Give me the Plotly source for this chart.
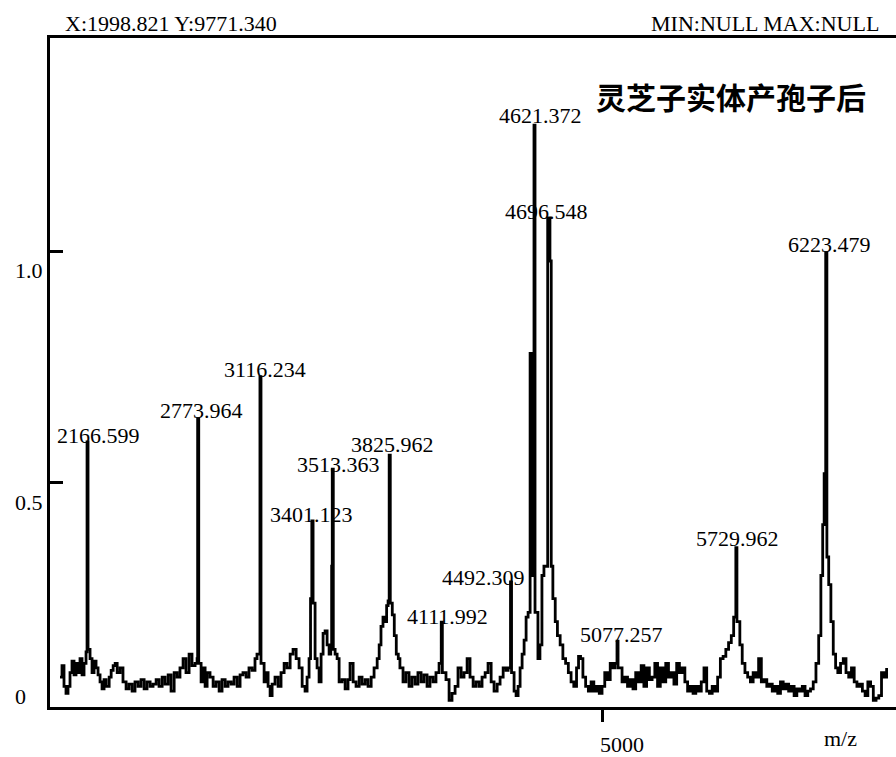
import plotly.graph_objects as go

# Labelled peaks: m/z and relative intensity
PEAK_MZ = [2166.599, 2773.964, 3116.234, 3401.123, 3513.363, 3825.962, 4111.992,
           4492.309, 4621.372, 4696.548, 5077.257, 5729.962, 6223.479]
PEAK_INT = [0.589, 0.639, 0.730, 0.418, 0.530, 0.560, 0.199,
            0.286, 1.274, 1.073, 0.158, 0.360, 0.998]
# nudge of each peak label (px)
LABEL_DX = [11, 4, 5, 0, 6, 3, 6, -27, 6, -1, 4, 2, 4]
LABEL_DY = [-7, -5, -6, -7, -9, -3, -8, -9, -4, -7, -7, -4, -5]

# Unlabelled companion peaks next to the major ones
SIDE_MZ = [4600.0, 4709.0, 6215.0]
SIDE_INT = [0.780, 0.980, 0.520]

# Baseline / noise profile of the spectrum
BASE_MZ = [
    2018, 2029, 2040, 2051, 2062, 2073, 2084, 2095, 2106, 2117, 2128, 2139, 2150, 2161,
    2172, 2183, 2194, 2205, 2216, 2227, 2238, 2249, 2260, 2271, 2288, 2299, 2310, 2321,
    2332, 2348, 2364, 2381, 2397, 2414, 2430, 2447, 2463, 2480, 2496, 2513, 2529, 2546,
    2562, 2579, 2595, 2612, 2628, 2645, 2661, 2677, 2694, 2710, 2727, 2743, 2760, 2771,
    2780, 2793, 2804, 2815, 2826, 2842, 2859, 2875, 2892, 2908, 2925, 2941, 2958, 2974,
    2991, 3007, 3023, 3040, 3056, 3073, 3089, 3100, 3122, 3139, 3150, 3161, 3172, 3183,
    3199, 3216, 3232, 3249, 3265, 3282, 3298, 3315, 3331, 3348, 3364, 3375, 3386, 3394,
    3408, 3419, 3430, 3441, 3452, 3463, 3474, 3485, 3496, 3505, 3510, 3519, 3529, 3540,
    3551, 3567, 3584, 3600, 3611, 3628, 3644, 3661, 3677, 3694, 3710, 3727, 3743, 3760,
    3771, 3781, 3792, 3800, 3812, 3820, 3832, 3843, 3854, 3865, 3876, 3885, 3902, 3918,
    3935, 3951, 3968, 3984, 4001, 4017, 4034, 4050, 4067, 4083, 4100, 4118, 4138, 4155,
    4171, 4188, 4204, 4221, 4237, 4254, 4270, 4287, 4303, 4320, 4336, 4353, 4369, 4386,
    4402, 4419, 4435, 4452, 4468, 4479, 4498, 4512, 4523, 4534, 4545, 4556, 4567, 4578,
    4589, 4606, 4627, 4643, 4654, 4665, 4676, 4716, 4725, 4738, 4750, 4765, 4780, 4795,
    4810, 4825, 4840, 4855, 4866, 4877, 4890, 4905, 4920, 4935, 4950, 4965, 4980, 4995,
    5010, 5025, 5040, 5055, 5066, 5083, 5105, 5120, 5135, 5150, 5165, 5180, 5195, 5210,
    5225, 5240, 5255, 5270, 5285, 5300, 5315, 5330, 5345, 5360, 5375, 5390, 5405, 5420,
    5435, 5450, 5465, 5480, 5495, 5510, 5525, 5540, 5555, 5570, 5585, 5600, 5615, 5630,
    5645, 5660, 5675, 5690, 5705, 5718, 5736, 5752, 5765, 5780, 5795, 5810, 5825, 5840,
    5855, 5870, 5885, 5900, 5915, 5930, 5945, 5960, 5975, 5990, 6005, 6020, 6035, 6050,
    6065, 6080, 6095, 6110, 6125, 6140, 6155, 6170, 6185, 6197, 6207, 6230, 6240, 6252,
    6265, 6278, 6290, 6305, 6320, 6335, 6350, 6365, 6380, 6395, 6410, 6425, 6440, 6455,
    6470, 6485, 6500, 6515, 6530, 6545, 6558,
]
BASE_INT = [
    0.080, 0.105, 0.060, 0.045, 0.060, 0.090, 0.115, 0.085, 0.110, 0.090, 0.120, 0.085, 0.110, 0.135,
    0.140, 0.120, 0.090, 0.115, 0.100, 0.085, 0.070, 0.055, 0.075, 0.060, 0.080, 0.095, 0.105, 0.110,
    0.090, 0.100, 0.070, 0.055, 0.065, 0.050, 0.070, 0.060, 0.075, 0.055, 0.070, 0.060, 0.065, 0.075,
    0.060, 0.080, 0.065, 0.085, 0.050, 0.090, 0.080, 0.100, 0.120, 0.090, 0.130, 0.105, 0.110, 0.120,
    0.110, 0.070, 0.100, 0.060, 0.090, 0.080, 0.060, 0.070, 0.050, 0.075, 0.060, 0.070, 0.065, 0.080,
    0.060, 0.085, 0.090, 0.080, 0.100, 0.095, 0.120, 0.130, 0.110, 0.070, 0.090, 0.060, 0.040, 0.065,
    0.080, 0.060, 0.090, 0.110, 0.100, 0.130, 0.140, 0.120, 0.100, 0.060, 0.050, 0.080, 0.120, 0.250,
    0.240, 0.120, 0.100, 0.070, 0.130, 0.175, 0.180, 0.150, 0.130, 0.140, 0.320, 0.140, 0.130, 0.120,
    0.070, 0.075, 0.055, 0.075, 0.110, 0.070, 0.060, 0.080, 0.065, 0.075, 0.060, 0.080, 0.100, 0.120,
    0.150, 0.190, 0.210, 0.200, 0.235, 0.245, 0.240, 0.215, 0.170, 0.130, 0.120, 0.100, 0.070, 0.090,
    0.060, 0.080, 0.065, 0.090, 0.070, 0.085, 0.060, 0.080, 0.070, 0.090, 0.110, 0.090, 0.075, 0.030,
    0.045, 0.060, 0.100, 0.080, 0.090, 0.120, 0.080, 0.060, 0.070, 0.060, 0.080, 0.090, 0.110, 0.070,
    0.050, 0.065, 0.080, 0.100, 0.095, 0.100, 0.090, 0.050, 0.040, 0.060, 0.100, 0.130, 0.160, 0.210,
    0.220, 0.300, 0.220, 0.120, 0.150, 0.300, 0.320, 0.320, 0.250, 0.200, 0.170, 0.150, 0.120, 0.110,
    0.090, 0.070, 0.060, 0.100, 0.125, 0.120, 0.080, 0.060, 0.050, 0.070, 0.050, 0.060, 0.045, 0.060,
    0.090, 0.075, 0.110, 0.100, 0.110, 0.100, 0.070, 0.080, 0.060, 0.075, 0.055, 0.090, 0.070, 0.105,
    0.060, 0.100, 0.075, 0.080, 0.110, 0.060, 0.100, 0.070, 0.110, 0.080, 0.090, 0.065, 0.110, 0.090,
    0.100, 0.070, 0.050, 0.060, 0.045, 0.060, 0.050, 0.070, 0.100, 0.050, 0.045, 0.060, 0.050, 0.080,
    0.120, 0.125, 0.140, 0.155, 0.170, 0.210, 0.200, 0.150, 0.110, 0.090, 0.080, 0.070, 0.090, 0.080,
    0.120, 0.070, 0.075, 0.060, 0.065, 0.050, 0.060, 0.045, 0.070, 0.055, 0.065, 0.050, 0.060, 0.040,
    0.055, 0.050, 0.060, 0.040, 0.050, 0.055, 0.070, 0.110, 0.170, 0.300, 0.410, 0.340, 0.280, 0.200,
    0.130, 0.100, 0.090, 0.110, 0.120, 0.090, 0.080, 0.100, 0.070, 0.060, 0.065, 0.050, 0.040, 0.070,
    0.060, 0.030, 0.035, 0.040, 0.090, 0.080, 0.100,
]

# Axis ticks
X_TICKS = [5000]
Y_TICKS = [0.5, 1.0]

HEADER_LEFT = "X:1998.821 Y:9771.340"
HEADER_RIGHT = "MIN:NULL MAX:NULL"
TITLE = "灵芝子实体产孢子后"

SERIF = "Liberation Serif"
CJK = "Noto Sans CJK SC"

# merge the profile and the peak sticks into one spectrum
points = sorted(zip(BASE_MZ + PEAK_MZ + SIDE_MZ, BASE_INT + PEAK_INT + SIDE_INT))
mz = [p[0] for p in points]
inten = [p[1] for p in points]

fig = go.Figure()
fig.add_trace(go.Scatter(
    x=mz, y=inten, mode="lines",
    line=dict(color="black", width=2.8, shape="hv"),
    hoverinfo="skip", showlegend=False,
))

annotations = []
for m, v, dx, dy in zip(PEAK_MZ, PEAK_INT, LABEL_DX, LABEL_DY):
    annotations.append(dict(
        x=m, y=v, xref="x", yref="y", text=f"{m:.3f}", showarrow=False,
        xanchor="center", yanchor="bottom", xshift=dx, yshift=dy, borderpad=0,
        font=dict(family=SERIF, size=22, color="black"),
    ))

annotations += [
    dict(x=0.0154, y=1.0222, xref="paper", yref="paper", text=HEADER_LEFT,
         showarrow=False, xanchor="left", yanchor="middle",
         font=dict(family=SERIF, size=22, color="black")),
    dict(x=0.982, y=1.0222, xref="paper", yref="paper", text=HEADER_RIGHT,
         showarrow=False, xanchor="right", yanchor="middle",
         font=dict(family=SERIF, size=22, color="black")),
    dict(x=0.805, y=0.914, xref="paper", yref="paper", text=TITLE,
         showarrow=False, xanchor="center", yanchor="middle",
         font=dict(family=CJK, size=30, color="black", weight="bold")),
    dict(x=0.934, y=-0.0473, xref="paper", yref="paper", text="m/z",
         showarrow=False, xanchor="center", yanchor="middle",
         font=dict(family=SERIF, size=22, color="black")),
    dict(x=-0.0343, y=0.0162, xref="paper", yref="paper", text="0",
         showarrow=False, xanchor="center", yanchor="middle",
         font=dict(family=SERIF, size=22, color="black")),
]

fig.update_layout(
    width=896, height=757,
    margin=dict(l=50, r=0, t=38, b=42, pad=0),
    paper_bgcolor="white", plot_bgcolor="white",
    annotations=annotations,
    xaxis=dict(
        range=[1963.1, 6609.6], showline=True, linecolor="black", linewidth=3,
        mirror=True, showgrid=False, zeroline=False,
        ticks="outside", ticklen=12, tickwidth=3, tickcolor="black",
        tickvals=X_TICKS, ticktext=[str(t) for t in X_TICKS],
        tickfont=dict(family=SERIF, size=22, color="black"),
        ticklabelshift=19, ticklabelstandoff=4,
    ),
    yaxis=dict(
        range=[0.0156, 1.4622], showline=True, linecolor="black", linewidth=3,
        mirror=False, showgrid=False, zeroline=False,
        ticks="inside", ticklen=13, tickwidth=3, tickcolor="black",
        tickvals=Y_TICKS, ticktext=[f"{t:.1f}" for t in Y_TICKS],
        tickfont=dict(family=SERIF, size=22, color="black"),
        ticklabelshift=19,
    ),
)

fig.write_html("out.html")
